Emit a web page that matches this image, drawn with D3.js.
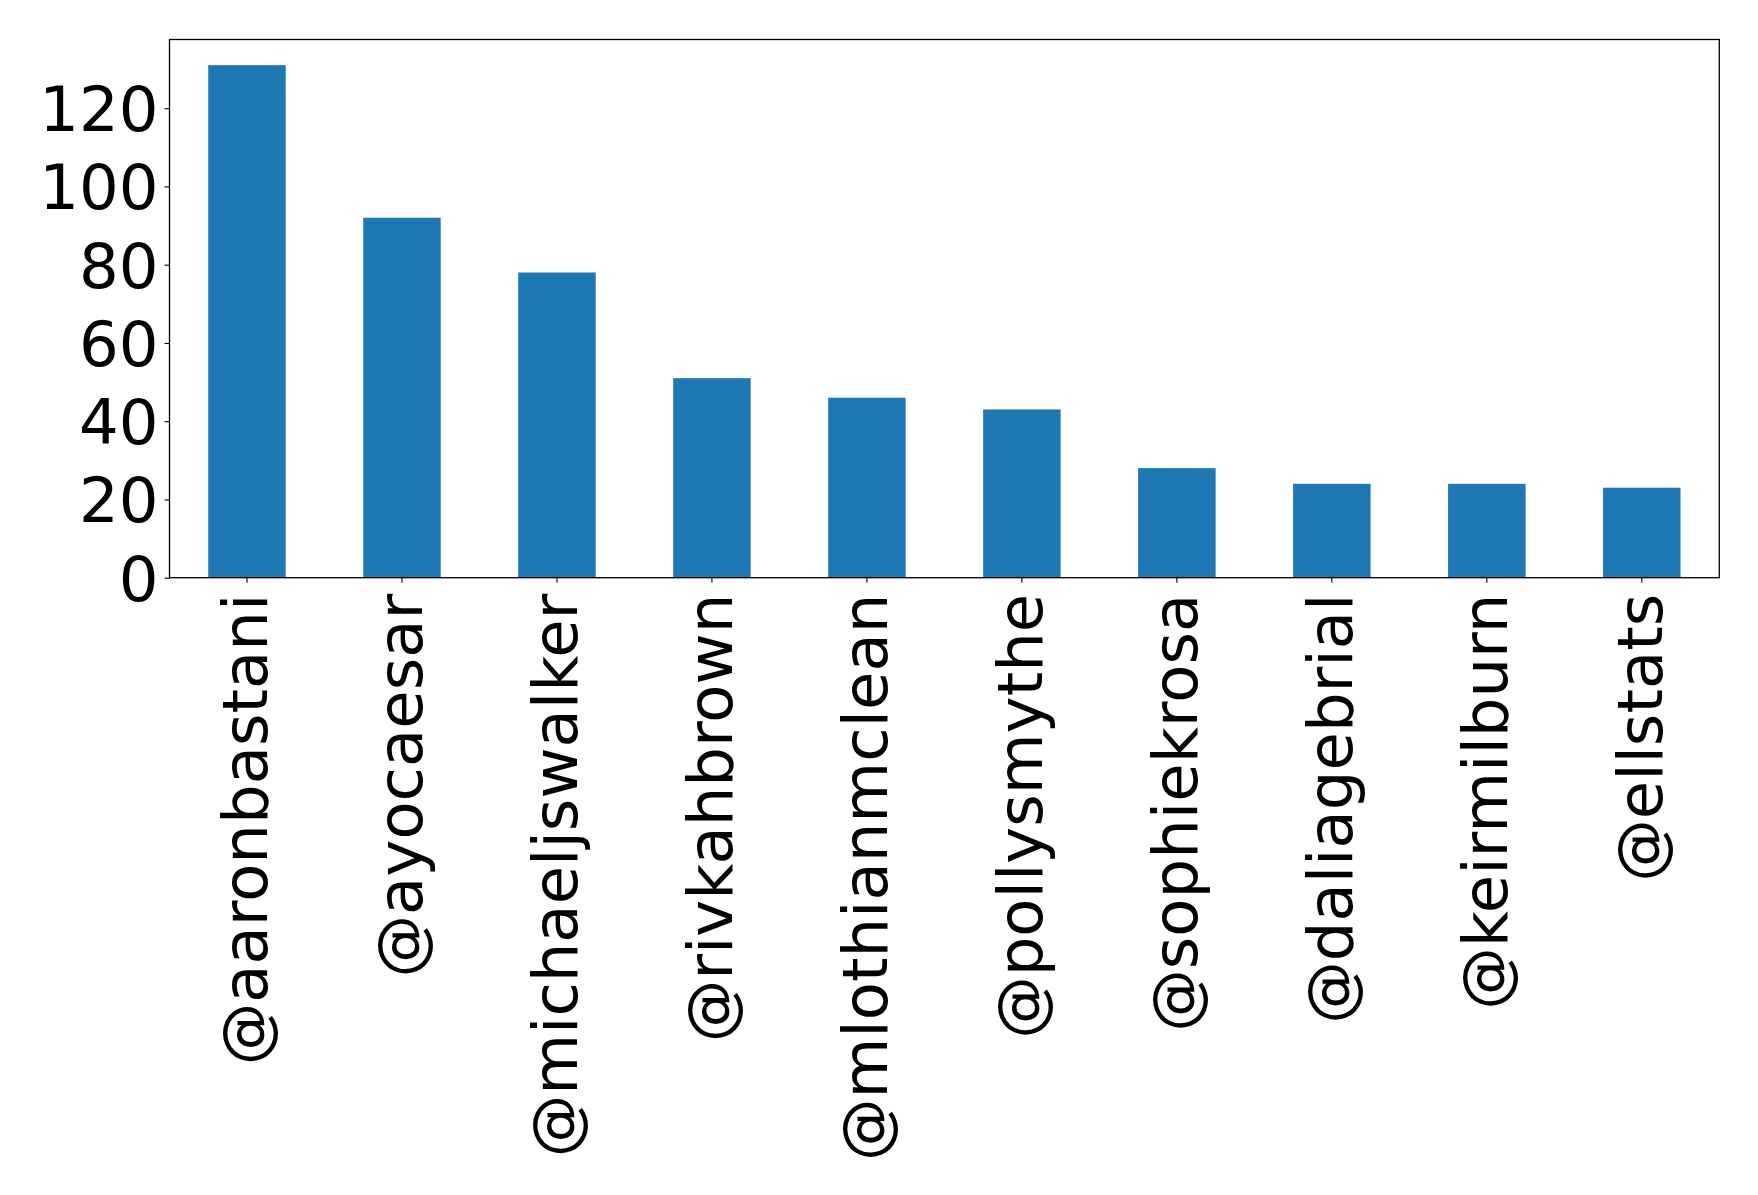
<!DOCTYPE html>
<html>
<head>
<meta charset="utf-8">
<script src="https://cdn.jsdelivr.net/npm/d3@7"></script>
<style>
  html, body { margin: 0; padding: 0; background: #fff; }
  svg { display: block; }
  text { font-family: "DejaVu Sans", sans-serif; }
</style>
</head>
<body>
<script>
const categories = ["@aaronbastani", "@ayocaesar", "@michaeljswalker", "@rivkahbrown",
  "@mlothianmclean", "@pollysmythe", "@sophiekrosa", "@daliagebrial", "@keirmilburn", "@ellstats"];
const values = [131, 92, 78, 51, 46, 43, 28, 24, 24, 23];
const yTicks = [0, 20, 40, 60, 80, 100, 120];

const W = 1758, H = 1195;
const m = { left: 169.5, top: 39.5, right: 1719.3, bottom: 577.7 };
const fontSize = 62.5;

const svg = d3.select("body").append("svg").attr("width", W).attr("height", H);

const x = d3.scaleBand().domain(categories).range([m.left, m.right]).paddingInner(0.5).paddingOuter(0.25);
const yMax = d3.max(values) * 1.05;
const y = d3.scaleLinear().domain([0, yMax]).range([m.bottom, m.top]);

svg.append("g").selectAll("rect").data(values).join("rect")
  .attr("x", (d, i) => x(categories[i]))
  .attr("y", d => y(d))
  .attr("width", x.bandwidth())
  .attr("height", d => y(0) - y(d))
  .attr("fill", "#1f77b4");

// Y axis
const yAxis = d3.axisLeft(y).tickValues(yTicks).tickSize(5).tickPadding(6);
const gy = svg.append("g").attr("transform", `translate(${m.left},0)`).call(yAxis);
gy.select(".domain").remove();
gy.selectAll(".tick line").attr("stroke", "#000").attr("stroke-width", 1.1);
gy.selectAll(".tick text").attr("font-size", fontSize).attr("fill", "#000")
  .attr("font-family", "DejaVu Sans, sans-serif").attr("dy", "0.36em");

// X axis
const xAxis = d3.axisBottom(x).tickSize(5).tickPadding(0);
const gx = svg.append("g").attr("transform", `translate(0,${m.bottom})`).call(xAxis);
gx.select(".domain").remove();
gx.selectAll(".tick line").attr("stroke", "#000").attr("stroke-width", 1.1);
gx.selectAll(".tick text")
  .attr("font-size", fontSize).attr("fill", "#000")
  .attr("font-family", "DejaVu Sans, sans-serif")
  .attr("text-anchor", "end")
  .attr("transform", "translate(0,16) rotate(-90)")
  .attr("x", 0).attr("y", 0).attr("dy", "0.32em");

// Frame
svg.append("rect")
  .attr("x", m.left).attr("y", m.top)
  .attr("width", m.right - m.left).attr("height", m.bottom - m.top)
  .attr("fill", "none").attr("stroke", "#000").attr("stroke-width", 1.3);
</script>
</body>
</html>
